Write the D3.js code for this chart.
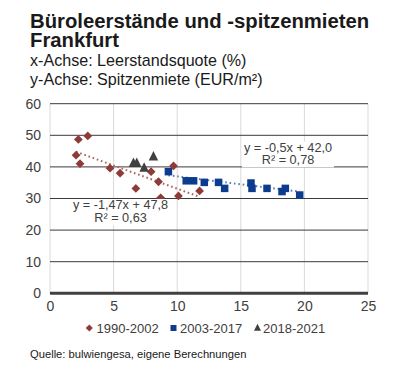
<!DOCTYPE html>
<html><head><meta charset="utf-8">
<script src="https://cdn.jsdelivr.net/npm/d3@7/dist/d3.min.js"></script>
<style>body{margin:0;background:#fff}svg{display:block}text{font-family:"Liberation Sans",Arial,sans-serif}</style>
</head><body><svg id="c" width="413" height="366"></svg>
<script>
// Data
const series1990 = [ // [Leerstandsquote %, Spitzenmiete EUR/m²]
  [2.23,48.7],[2.97,49.8],[2.05,43.7],[2.36,41.0],[4.72,39.6],[5.51,38.0],
  [6.75,33.2],[7.95,38.5],[8.53,35.3],[9.71,40.3],[10.1,30.8],[11.76,32.4],[8.7,30.2]
];
const series2003 = [
  [9.31,38.5],[10.71,35.6],[11.29,35.6],[12.13,35.1],[13.25,35.1],[13.73,33.2],
  [15.8,34.9],[15.88,33.2],[17.06,33.2],[18.24,32.2],[18.5,33.2],[19.63,31.1]
];
const series2018 = [[6.56,41.1],[6.82,41.1],[7.4,39.6],[8.13,43.2]];
const trend1990 = {slope:-1.47, intercept:47.8, label:"y = -1,47x + 47,8", r2:"R² = 0,63"};
const trend2003 = {slope:-0.5, intercept:42.0, label:"y = -0,5x + 42,0", r2:"R² = 0,78"};
const xTicks = [0,5,10,15,20,25];
const yTicks = [0,10,20,30,40,50,60];
const legendLabels = ["1990-2002","2003-2017","2018-2021"];

const RED="#8e3a36", BLUE="#0d3b8e", GRAY="#404040";
const svg = d3.select("#c");
const x = d3.scaleLinear().domain([0,25]).range([50,368]);
const y = d3.scaleLinear().domain([0,60]).range([293.3,103.7]);

// titles
svg.append("text").attr("x",30).attr("y",27.5).attr("font-size",20.3).attr("font-weight","bold").attr("fill","#1a1a1a").text("Büroleerstände und -spitzenmieten");
svg.append("text").attr("x",30).attr("y",46.7).attr("font-size",20.3).attr("font-weight","bold").attr("fill","#1a1a1a").text("Frankfurt");
svg.append("text").attr("x",30).attr("y",66).attr("font-size",16.1).attr("fill","#1a1a1a").text("x-Achse: Leerstandsquote (%)");
svg.append("text").attr("x",30).attr("y",85).attr("font-size",16.1).attr("fill","#1a1a1a").text("y-Achse: Spitzenmiete (EUR/m²)");

// grid
svg.append("g").selectAll("line").data(xTicks).join("line")
  .attr("x1",d=>x(d)).attr("x2",d=>x(d)).attr("y1",y(60)).attr("y2",y(0))
  .attr("stroke","#d9d9d9").attr("stroke-width",1);
svg.append("g").selectAll("line").data(yTicks.filter(d=>d>0)).join("line")
  .attr("x1",x(0)).attr("x2",x(25)).attr("y1",d=>y(d)).attr("y2",d=>y(d))
  .attr("stroke","#3a3a3a").attr("stroke-width",1);
svg.append("line").attr("x1",x(0)).attr("x2",x(25)).attr("y1",y(0)).attr("y2",y(0))
  .attr("stroke","#404040").attr("stroke-width",3);

// axes labels
const yAxis = d3.axisLeft(y).tickValues(yTicks).tickSize(0).tickPadding(9);
const gy = svg.append("g").attr("transform",`translate(${x(0)},0)`).call(yAxis);
gy.select(".domain").remove();
gy.selectAll("text").attr("font-size",14).attr("fill","#404040").attr("font-family","Liberation Sans, Arial, sans-serif");
const xAxis = d3.axisBottom(x).tickValues(xTicks).tickSize(0).tickPadding(8);
const gx = svg.append("g").attr("transform",`translate(0,${y(0)})`).call(xAxis);
gx.select(".domain").remove();
gx.selectAll("text").attr("font-size",14).attr("fill","#404040").attr("font-family","Liberation Sans, Arial, sans-serif");

// trendlines
function trend(t, data, color){
  const ext = d3.extent(data, d=>d[0]);
  svg.append("line").attr("x1",x(ext[0])).attr("x2",x(ext[1]))
    .attr("y1",y(t.slope*ext[0]+t.intercept)).attr("y2",y(t.slope*ext[1]+t.intercept))
    .attr("stroke",color).attr("stroke-width",2).attr("stroke-dasharray","1.6,2.8");
}
trend(trend1990, series1990, "#b0605a");
trend(trend2003, series2003, "#5a7bb5");

const sym = {
  d: (g,px,py,s)=>g.append("rect").attr("x",-s/2).attr("y",-s/2).attr("width",s).attr("height",s).attr("transform",`translate(${px},${py}) rotate(45)`),
  s: (g,px,py,s)=>g.append("rect").attr("x",px-s/2).attr("y",py-s/2).attr("width",s).attr("height",s),
  t: (g,px,py,s)=>g.append("path").attr("d",`M${px},${py-s*0.62}L${px+s/2},${py+s*0.38}L${px-s/2},${py+s*0.38}Z`)
};
const gm = svg.append("g");
series1990.forEach(d=>sym.d(gm,x(d[0]),y(d[1]),6.2).attr("fill",RED));
series2003.forEach(d=>sym.s(gm,x(d[0]),y(d[1]),7.5).attr("fill",BLUE));
series2018.forEach(d=>sym.t(gm,x(d[0]),y(d[1]),9.5).attr("fill",GRAY));

// equation labels
function eqLabel(t, cx, y1, y2){
  const g = svg.append("g");
  const t1 = g.append("text").attr("x",cx).attr("y",y1).attr("text-anchor","middle").attr("font-size",12.7).attr("fill","#404040").text(t.label);
  const t2 = g.append("text").attr("x",cx).attr("y",y2).attr("text-anchor","middle").attr("font-size",12.7).attr("fill","#404040").text(t.r2);
  const b = t1.node().getBBox();
  g.insert("rect","text").attr("x",b.x-2).attr("y",b.y+1).attr("width",b.width+4).attr("height",y2+3-b.y-1).attr("fill","#fff");
}
eqLabel(trend1990, 120.5, 209, 222.3);
eqLabel(trend2003, 288, 151.7, 164.3);

// legend
const lg = svg.append("g");
const ly = 328;
sym.d(lg,89.3,ly,5).attr("fill",RED);
lg.append("text").attr("x",96.5).attr("y",ly+4.5).attr("font-size",13).attr("fill","#404040").text(legendLabels[0]);
sym.s(lg,173.5,ly,6).attr("fill",BLUE);
lg.append("text").attr("x",180).attr("y",ly+4.5).attr("font-size",13).attr("fill","#404040").text(legendLabels[1]);
sym.t(lg,257.5,ly,7).attr("fill",GRAY);
lg.append("text").attr("x",263).attr("y",ly+4.5).attr("font-size",13).attr("fill","#404040").text(legendLabels[2]);

svg.append("text").attr("x",30).attr("y",358).attr("font-size",11.2).attr("fill","#1a1a1a").text("Quelle: bulwiengesa, eigene Berechnungen");
</script></body></html>
